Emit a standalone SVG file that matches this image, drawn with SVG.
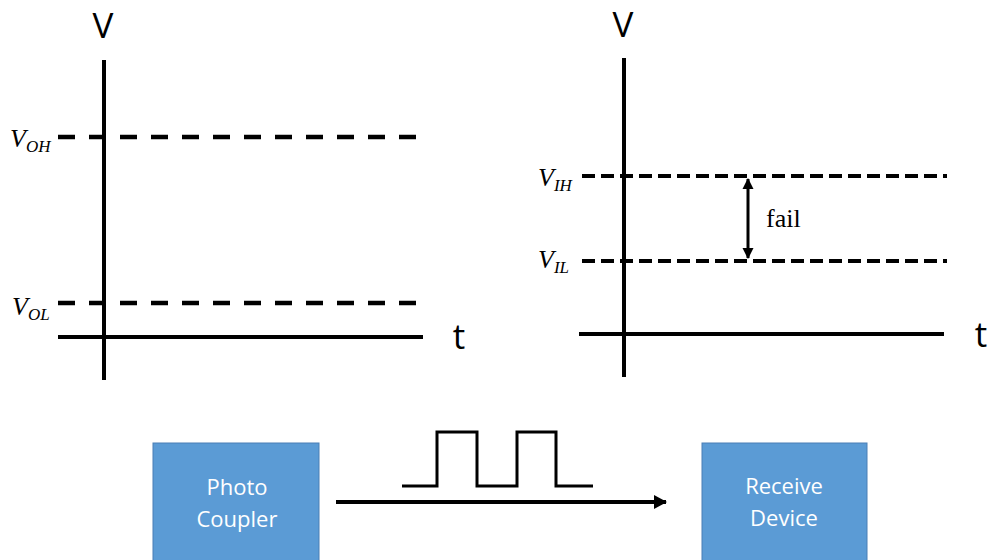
<svg xmlns="http://www.w3.org/2000/svg" width="988" height="560" viewBox="0 0 988 560">
<style>
.axis{stroke:#000;stroke-width:4;fill:none}
.dashL{stroke:#000;stroke-width:4.5;fill:none;stroke-dasharray:17 14}
.dashR{stroke:#000;stroke-width:4;fill:none;stroke-dasharray:13 6}
.big{font-family:"Open Sans","DejaVu Sans",sans-serif;font-size:35px;fill:#000;text-anchor:middle}
.math{font-family:"Liberation Serif","DejaVu Serif",serif;font-style:italic;font-size:26px;fill:#000}
.sub{font-size:17px}
.box{fill:#5B9BD5;stroke:#4A7FB5;stroke-width:1}
.lbl{font-family:"Open Sans","DejaVu Sans",sans-serif;font-size:22px;fill:#fff;text-anchor:middle}
.wire{stroke:#000;stroke-width:3;fill:none}
</style>
<defs>
<marker id="ah" markerWidth="14" markerHeight="14" refX="12" refY="7" orient="auto" markerUnits="userSpaceOnUse">
<path d="M0,0 L13,7 L0,14 Z" fill="#000"/>
</marker>
<marker id="sh" markerWidth="12" markerHeight="12" refX="10" refY="6" orient="auto-start-reverse" markerUnits="userSpaceOnUse">
<path d="M0,0.5 L11,6 L0,11.5 Z" fill="#000"/>
</marker>
</defs>

<g id="chart-output">
<line class="dashL" x1="58" y1="137" x2="416" y2="137"/>
<line class="dashL" x1="58" y1="303" x2="416" y2="303"/>
<line class="axis" x1="104" y1="60" x2="104" y2="380"/>
<line class="axis" x1="58" y1="337" x2="423" y2="337"/>
<text class="big" x="103" y="38">V</text>
<text class="big" x="459" y="349">t</text>
<text class="math" x="10" y="147">V<tspan class="sub" dy="5">OH</tspan></text>
<text class="math" x="12" y="315">V<tspan class="sub" dy="5">OL</tspan></text>
</g>

<g id="chart-input">
<line class="dashR" x1="582" y1="176" x2="947" y2="176"/>
<line class="dashR" x1="582" y1="261" x2="947" y2="261"/>
<line class="axis" x1="624" y1="58" x2="624" y2="377"/>
<line class="axis" x1="579" y1="334" x2="944" y2="334"/>
<text class="big" x="623" y="37">V</text>
<text class="big" x="981" y="347">t</text>
<text class="math" x="538" y="186">V<tspan class="sub" dy="5">IH</tspan></text>
<text class="math" x="538" y="268">V<tspan class="sub" dy="5">IL</tspan></text>
<text x="766" y="227" style="font-family:'Liberation Serif','DejaVu Serif',serif;font-size:26px;fill:#000">fail</text>
</g>

<g id="connectors">
<line x1="748" y1="179" x2="748" y2="258" stroke="#000" stroke-width="3" marker-start="url(#sh)" marker-end="url(#sh)"/>
<line x1="336" y1="502" x2="666" y2="502" stroke="#000" stroke-width="4" marker-end="url(#ah)"/>
<polyline class="wire" points="402,486 437,486 437,432 477,432 477,486 517,486 517,432 556,432 556,486 593,486"/>
</g>

<g id="photo-coupler">
<rect class="box" x="153" y="443" width="166" height="120"/>
<text class="lbl" x="237" y="495">Photo</text>
<text class="lbl" x="237" y="527">Coupler</text>
</g>

<g id="receive-device">
<rect class="box" x="702" y="443" width="165" height="120"/>
<text class="lbl" x="784" y="494">Receive</text>
<text class="lbl" x="784" y="526">Device</text>
</g>
</svg>
